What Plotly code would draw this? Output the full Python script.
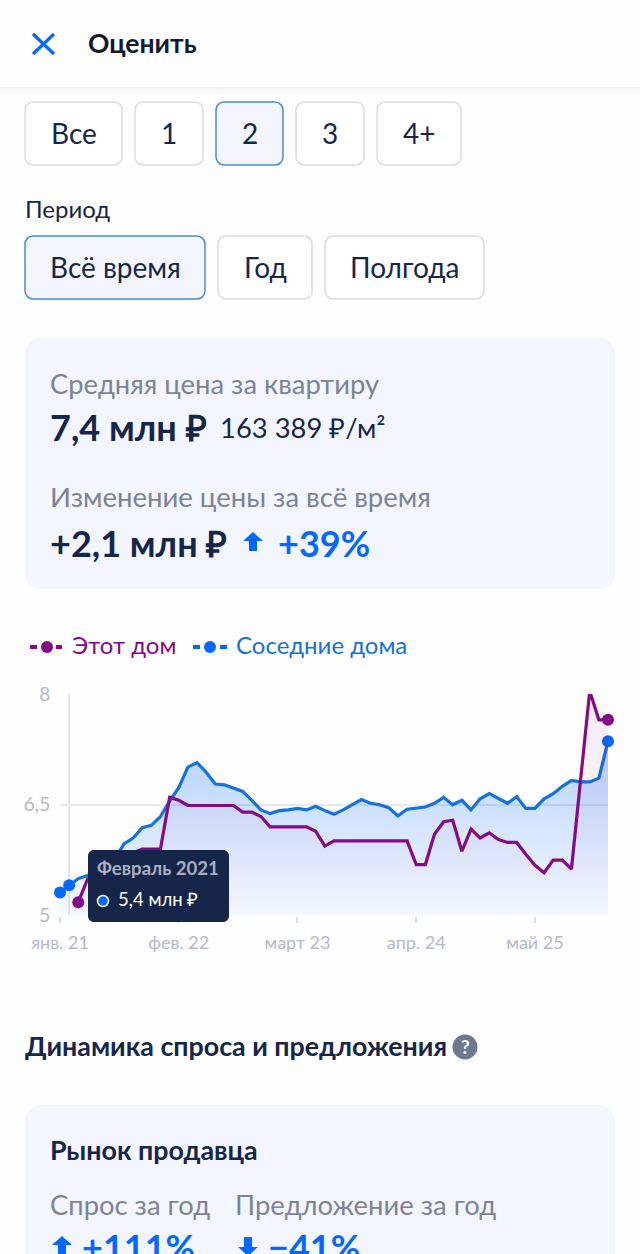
import plotly.graph_objects as go

# px size of the screenshot
W = 640
H = 1254

FONT = "Lato"
DARK = "#16264a"
GREY = "#7b8397"
BLUE = "#0468ff"
LINE_BLUE = "#1570e0"
PURPLE = "#850a85"
BORDER = "#d8dde5"
SELECTED_BORDER = "#4a8bd6"
CARD = "#f3f6fe"

# prices, mln rub, one value per month from jan 2021
neighbours = [
    5.31, 5.41, 5.50, 5.54, 5.58, 5.62, 5.76, 5.97, 6.05, 6.19,
    6.22, 6.34, 6.55, 6.73, 7.01, 7.07, 6.94, 6.78, 6.77, 6.73,
    6.68, 6.56, 6.43, 6.38, 6.42, 6.43, 6.45, 6.43, 6.48, 6.42,
    6.37, 6.43, 6.50, 6.57, 6.52, 6.50, 6.46, 6.35, 6.44, 6.46,
    6.47, 6.52, 6.60, 6.50, 6.56, 6.43, 6.58, 6.65, 6.58, 6.52,
    6.61, 6.45, 6.45, 6.58, 6.65, 6.75, 6.83, 6.81, 6.81, 6.86,
    7.36,
]
this_house = [
    None, None, 5.18, 5.49, 5.60, 5.70, 5.75, 5.80, 5.85, 5.90,
    5.90, 5.90, 6.60, 6.56, 6.49, 6.49, 6.49, 6.49, 6.49, 6.49,
    6.40, 6.40, 6.34, 6.20, 6.20, 6.20, 6.20, 6.20, 6.14, 5.94,
    6.01, 6.01, 6.01, 6.01, 6.01, 6.01, 6.01, 6.01, 6.01, 5.69,
    5.69, 6.10, 6.27, 6.29, 5.87, 6.17, 6.05, 6.12, 6.03, 5.99,
    5.99, 5.83, 5.68, 5.58, 5.75, 5.75, 5.63, 6.84, 8.04, 7.65,
    7.65,
]
months = list(range(len(neighbours)))

x_ticks = [0, 13, 26, 39, 52]
x_labels = ["янв. 21", "фев. 22", "март 23", "апр. 24", "май 25"]
y_ticks = [5, 6.5, 8]
y_labels = ["5", "6,5", "8"]

hover_month = 1  # Февраль 2021, the tooltip point
neighbour_dots = [0, hover_month, 60]
house_dots = [2, 60]

filter_row = ["Все", "1", "2", "3", "4+"]
filter_edges = [(25, 122), (135, 203), (216, 283), (296, 364), (377, 461)]
period_row = ["Всё время", "Год", "Полгода"]
period_edges = [(25, 205), (218, 312), (325, 484)]


def px(x):
    return x / W


def py(y):
    return 1 - y / H


def round_rect(x0, y0, x1, y1, r, fill, line=None, width=1.5, layer="below"):
    k = r * 0.45
    pts = [
        ("M", (x0 + r, y0)), ("L", (x1 - r, y0)),
        ("C", (x1 - k, y0), (x1, y0 + k), (x1, y0 + r)),
        ("L", (x1, y1 - r)),
        ("C", (x1, y1 - k), (x1 - k, y1), (x1 - r, y1)),
        ("L", (x0 + r, y1)),
        ("C", (x0 + k, y1), (x0, y1 - k), (x0, y1 - r)),
        ("L", (x0, y0 + r)),
        ("C", (x0, y0 + k), (x0 + k, y0), (x0 + r, y0)),
    ]
    path = ""
    for p in pts:
        path += p[0] + " ".join(f"{px(a):.5f},{py(b):.5f}" for a, b in p[1:]) + " "
    return dict(type="path", path=path + "Z", xref="paper", yref="paper",
                fillcolor=fill, line=dict(color=line or fill, width=width if line else 0),
                layer=layer)


def rect(x0, y0, x1, y1, fill, layer="below"):
    return dict(type="rect", xref="paper", yref="paper", x0=px(x0), x1=px(x1),
                y0=py(y0), y1=py(y1), fillcolor=fill, line=dict(width=0), layer=layer)


def dot(cx, cy, r, fill, line=None, width=0, layer="above"):
    return dict(type="circle", xref="paper", yref="paper",
                x0=px(cx - r), x1=px(cx + r), y0=py(cy + r), y1=py(cy - r),
                fillcolor=fill, line=dict(color=line or fill, width=width), layer=layer)


def seg(x0, y0, x1, y1, color, width):
    return dict(type="line", xref="paper", yref="paper", x0=px(x0), x1=px(x1),
                y0=py(y0), y1=py(y1), line=dict(color=color, width=width), layer="above")


def arrow(cx, cy, up=True):
    s = 1 if up else -1
    coords = [(-10, -1), (0, -10), (10, -1), (4, -1), (4, 9), (-4, 9), (-4, -1)]
    path = ""
    for i, (a, b) in enumerate(coords):
        path += ("M" if i == 0 else "L") + f"{px(cx + a):.5f},{py(cy + s * b):.5f} "
    return dict(type="path", path=path + "Z", xref="paper", yref="paper",
                fillcolor=BLUE, line=dict(width=0), layer="above")


def label(x, y, text, size, color=DARK, bold=False, anchor="left", yanchor="middle"):
    body = f"<b>{text}</b>" if bold else text
    # annotations sit a bit right and low of the given point, pull them back
    if anchor == "left":
        x -= 2.5
    return dict(text=body, x=px(x), y=py(y - 2), xref="paper", yref="paper",
                xanchor=anchor, yanchor=yanchor, showarrow=False,
                font=dict(family=FONT, size=size, color=color))


shapes = []
notes = []

# top bar with its soft shadow
for i, alpha in enumerate([0.05, 0.035, 0.02, 0.01]):
    shapes.append(rect(0, 87 + i * 2, W, 89 + i * 2, f"rgba(40,50,70,{alpha})"))
shapes.append(seg(33, 34, 54, 54, BLUE, 3.2))
shapes.append(seg(54, 34, 33, 54, BLUE, 3.2))
notes.append(label(88, 45, "Оценить", 26.5, "#101a30", bold=True))

# filter buttons
for text, (x0, x1) in zip(filter_row, filter_edges):
    on = text == "2"
    shapes.append(round_rect(x0, 102, x1, 165, 8, CARD if on else "#ffffff",
                             SELECTED_BORDER if on else BORDER))
    notes.append(label((x0 + x1) / 2, 135, text, 28, anchor="center"))
notes.append(label(25, 210, "Период", 24))
for text, (x0, x1) in zip(period_row, period_edges):
    on = text == "Всё время"
    shapes.append(round_rect(x0, 236, x1, 299, 8, CARD if on else "#ffffff",
                             SELECTED_BORDER if on else BORDER))
    notes.append(label((x0 + x1) / 2, 269, text, 28, anchor="center"))

# price card
shapes.append(round_rect(25, 338, 615, 589, 16, CARD))
notes.append(label(50, 385, "Средняя цена за квартиру", 27.4, GREY))
notes.append(label(50, 429, "7,4 млн ₽", 36, bold=True))
notes.append(label(220, 429, "163 389 ₽/м²", 27.4))
notes.append(label(50, 499, "Изменение цены за всё время", 27.5, GREY))
notes.append(label(50, 545, "+2,1 млн ₽", 36, bold=True))
shapes.append(arrow(253, 542))
notes.append(label(278, 545, "+39%", 36, BLUE, bold=True))

# chart legend, drawn by hand since text takes the series colour
shapes += [seg(30, 647, 37, 647, PURPLE, 4), dot(47, 647, 6, PURPLE), seg(56, 647, 62, 647, PURPLE, 4)]
notes.append(label(72, 646, "Этот дом", 24, PURPLE))
shapes += [seg(193, 647, 200, 647, BLUE, 4), dot(210, 647, 6, BLUE), seg(220, 647, 227, 647, BLUE, 4)]
notes.append(label(236, 646, "Соседние дома", 24, LINE_BLUE))

# hover crosshair
shapes.append(dict(type="line", xref="x", yref="y", x0=hover_month, x1=hover_month,
                   y0=5, y1=8, line=dict(color="#d9dde6", width=1.5), layer="below"))

# tooltip
shapes.append(round_rect(88, 850, 229, 922, 6, "#16264a", layer="above"))
shapes.append(dot(103, 901, 5.5, BLUE, "#ffffff", 1.5))
notes.append(label(97, 870, "Февраль 2021", 18.6, "#a8b0c0", bold=True))
notes.append(label(118, 901, "5,4 млн ₽", 18.5, "#ffffff"))

# demand block
notes.append(label(25, 1048, "Динамика спроса и предложения", 26.8, bold=True))
shapes.append(dot(465, 1047, 12.5, "#6f7890"))
notes.append(label(465, 1048, "?", 19, "#ffffff", bold=True, anchor="center"))
shapes.append(round_rect(25, 1105, 615, 1290, 16, CARD))
notes.append(label(50, 1152, "Рынок продавца", 26.8, bold=True))
notes.append(label(50, 1206, "Спрос за год", 27.4, GREY))
notes.append(label(235, 1206, "Предложение за год", 27.4, GREY))
shapes.append(arrow(62, 1246))
notes.append(label(82, 1249, "+111%", 36, BLUE, bold=True))
shapes.append(arrow(248, 1246, up=False))
notes.append(label(268, 1249, "−41%", 36, BLUE, bold=True))

fig = go.Figure()
fig.add_trace(go.Scatter(
    x=months, y=neighbours, mode="lines+markers", cliponaxis=False, fill="tozeroy",
    fillgradient=dict(type="vertical", start=5, stop=7.4,
                      colorscale=[[0, "rgba(4,104,255,0.03)"], [1, "rgba(4,104,255,0.3)"]]),
    line=dict(color=LINE_BLUE, width=3.2),
    marker=dict(color=BLUE, opacity=1, size=[12 if m in neighbour_dots else 0 for m in months],
                line=dict(width=0)),
))
fig.add_trace(go.Scatter(
    x=months, y=this_house, mode="lines+markers", cliponaxis=False, fill="tozeroy",
    fillgradient=dict(type="vertical", start=5, stop=8,
                      colorscale=[[0, "rgba(133,10,133,0.01)"], [1, "rgba(133,10,133,0.08)"]]),
    line=dict(color=PURPLE, width=3.2),
    marker=dict(color=PURPLE, opacity=1, size=[12 if m in house_dots else 0 for m in months],
                line=dict(width=0)),
))

fig.update_layout(
    width=W, height=H, margin=dict(l=0, r=0, t=0, b=0),
    paper_bgcolor="#fefefe", plot_bgcolor="rgba(0,0,0,0)",
    showlegend=False, hovermode=False, shapes=shapes, annotations=notes,
    xaxis=dict(domain=[px(60), px(608)], range=[0, 60], tickmode="array", automargin=False,
               tickvals=x_ticks, ticktext=x_labels, showgrid=False, zeroline=False,
               showline=False, ticks="outside", ticklen=6, tickwidth=1.5, tickcolor="#d9dde6",
               ticklabelstandoff=5,
               tickfont=dict(family=FONT, size=18, color="#b4b9c4"), anchor="y"),
    yaxis=dict(domain=[py(915.5), py(694)], range=[5, 8], tickmode="array", automargin=False,
               tickvals=y_ticks, ticktext=y_labels, showgrid=True, gridcolor="#e6e9f0",
               gridwidth=1.5, zeroline=False, showline=False, ticks="outside", ticklen=5,
               tickcolor="rgba(0,0,0,0)",
               tickfont=dict(family=FONT, size=19, color="#b4b9c4"), anchor="x"),
)

fig.write_html("out.html", config={"displayModeBar": False},
               post_script="document.body.style.margin='0';")
